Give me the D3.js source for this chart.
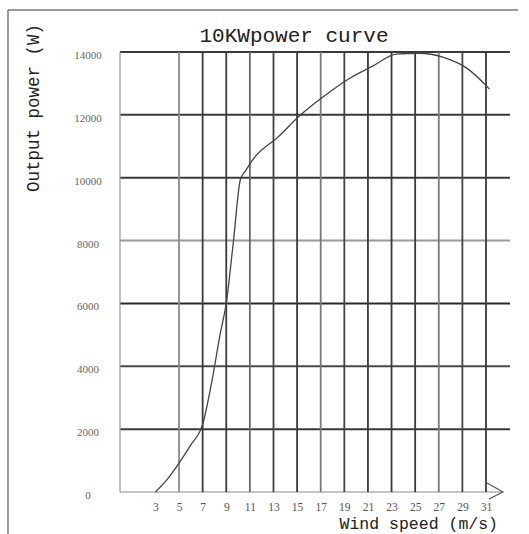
<!DOCTYPE html>
<html>
<head>
<meta charset="utf-8">
<script src="https://cdn.jsdelivr.net/npm/d3@7"></script>
<style>
  html, body { margin: 0; padding: 0; background: #fff; }
  svg { display: block; }
</style>
</head>
<body>
<div class="power-viz"></div>
<script>
let pcW = 529;
let pcH = 534;

// values
let windSpeed = [3, 4, 5, 6, 7, 7.8, 8.5, 9, 9.6, 10.2, 10.6, 11.3, 13.4, 15.3, 17.3, 19.4, 21.4, 23.4, 25.3, 27.4, 29.4, 31.3];
let outputPower = [0, 400, 920, 1500, 2150, 3560, 5060, 6000, 7950, 9950, 10200, 10600, 11300, 12000, 12600, 13150, 13550, 13930, 13960, 13830, 13480, 12820];
let xTicks = [3, 5, 7, 9, 11, 13, 15, 17, 19, 21, 23, 25, 27, 29, 31];
let xGrid = [0, 5, 7, 9, 11, 13, 15, 17, 19, 21, 23, 25, 27, 29, 31];
let yTicks = [0, 2000, 4000, 6000, 8000, 10000, 12000, 14000];

// grid line shades (scan looks uneven)
let vShade = {0: "#9a9a9a", 5: "#8a8a8a", 7: "#3a3a3a", 9: "#3a3a3a", 11: "#6a6a6a", 13: "#444", 15: "#3a3a3a", 17: "#7a7a7a",
              19: "#444", 21: "#3a3a3a", 23: "#3a3a3a", 25: "#3a3a3a", 27: "#7a7a7a", 29: "#444", 31: "#3a3a3a"};
let hShade = {0: "#8a8a8a", 2000: "#3a3a3a", 4000: "#4a4a4a", 6000: "#2a2a2a", 8000: "#9a9a9a", 10000: "#3a3a3a", 12000: "#3a3a3a", 14000: "#3a3a3a"};

let data = windSpeed.map((d, i) => ({speed: d, power: outputPower[i]}));

let pcViz = d3.select(".power-viz")
              .append("svg")
              .attr("width", pcW)
              .attr("height", pcH)
              .style("background-color", "#fff")
;

let xScale = d3.scaleLinear().domain([0, 31]).range([120, 486]);
let yScale = d3.scaleLinear().domain([0, 14000]).range([492, 52]);
let gridRight = 510;

// frame
pcViz.append("line")
     .attr("x1", 8).attr("y1", 10).attr("x2", 518).attr("y2", 10)
     .attr("stroke", "#777").attr("stroke-width", 1.5);
pcViz.append("line")
     .attr("x1", 8).attr("y1", 10).attr("x2", 8).attr("y2", pcH)
     .attr("stroke", "#777").attr("stroke-width", 1.5);

// horizontal grid
pcViz.append("g").attr("class", "hgrid")
     .selectAll("line").data(yTicks).enter()
     .append("line")
     .attr("x1", xScale(0))
     .attr("x2", d => d == 0 ? 503 : gridRight)
     .attr("y1", d => yScale(d))
     .attr("y2", d => yScale(d))
     .attr("stroke", d => hShade[d])
     .attr("stroke-width", d => d == 0 ? 1.2 : 2)
;

// vertical grid
pcViz.append("g").attr("class", "vgrid")
     .selectAll("line").data(xGrid).enter()
     .append("line")
     .attr("x1", d => xScale(d))
     .attr("x2", d => xScale(d))
     .attr("y1", yScale(14000))
     .attr("y2", yScale(0))
     .attr("stroke", d => vShade[d])
     .attr("stroke-width", d => d == 0 ? 1.2 : 1.8)
;

// arrow at the end of the x axis
pcViz.append("polyline")
     .attr("points", [[487, 483], [503, 492], [489, 499]].map(p => p.join(",")).join(" "))
     .attr("fill", "none")
     .attr("stroke", "#555")
     .attr("stroke-width", 1.2)
;

// x axis labels
let xAxis = d3.axisBottom(xScale).tickValues(xTicks).tickSize(0).tickPadding(0).tickFormat(d3.format("d"));
let xAxisGroup = pcViz.append("g")
                      .attr("class", "xaxisgroup")
                      .attr("transform", "translate(0,503)")
;
xAxisGroup.call(xAxis).call(g => g.select(".domain").remove());
xAxisGroup.selectAll("text")
          .attr("font-family", "'Liberation Serif', serif")
          .attr("font-size", "11.5px")
          .attr("fill", "#555")
;

// y axis labels
let yAxis = d3.axisLeft(yScale).tickValues(yTicks).tickSize(0).tickPadding(0).tickFormat(d3.format("d"));
let yAxisGroup = pcViz.append("g")
                      .attr("class", "yaxisgroup")
                      .attr("transform", "translate(88,3)")
;
yAxisGroup.call(yAxis).call(g => g.select(".domain").remove());
yAxisGroup.selectAll("text")
          .attr("text-anchor", "middle")
          .attr("font-family", "'Liberation Serif', serif")
          .attr("font-size", "11px")
          .attr("fill", "#666")
;

// power curve
let line = d3.line()
             .x(d => xScale(d.speed))
             .y(d => yScale(d.power))
             .curve(d3.curveMonotoneX)
;
pcViz.append("path")
     .datum(data)
     .attr("d", line)
     .attr("fill", "none")
     .attr("stroke", "#444")
     .attr("stroke-width", 1.3)
;

// title and axis titles
pcViz.append("text")
     .text("10KWpower curve")
     .attr("x", 294)
     .attr("y", 42)
     .attr("text-anchor", "middle")
     .attr("font-family", "'Liberation Mono', monospace")
     .attr("font-size", "21px")
     .attr("fill", "#222")
;
pcViz.append("text")
     .text("Wind speed (m/s)")
     .attr("x", 498)
     .attr("y", 529)
     .attr("text-anchor", "end")
     .attr("font-family", "'Liberation Mono', monospace")
     .attr("font-size", "16.5px")
     .attr("fill", "#222")
;
pcViz.append("text")
     .text("Output power (W)")
     .attr("transform", "translate(39,108) rotate(-90)")
     .attr("text-anchor", "middle")
     .attr("font-family", "'Liberation Mono', monospace")
     .attr("font-size", "17.5px")
     .attr("fill", "#222")
;
</script>
</body>
</html>
